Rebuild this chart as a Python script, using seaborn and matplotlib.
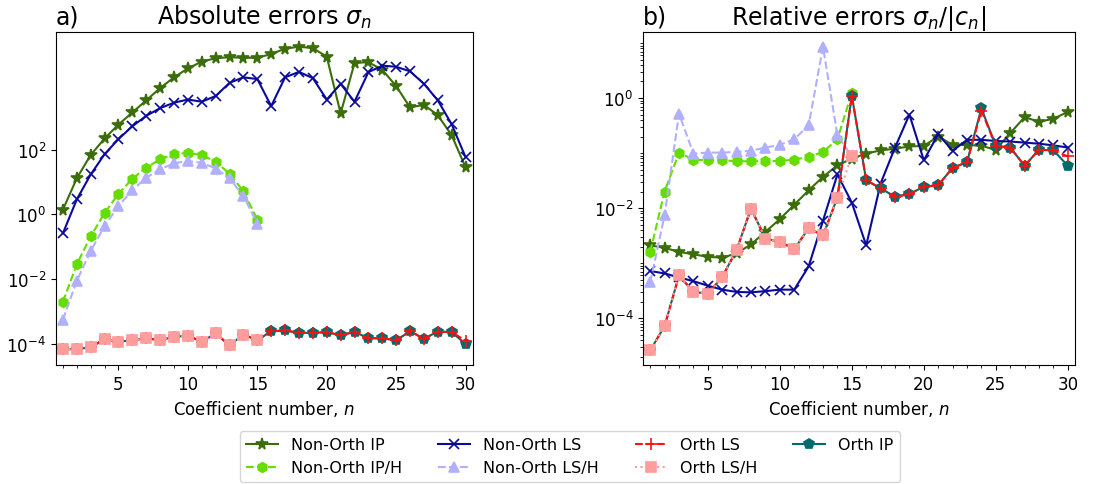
import matplotlib
matplotlib.use("Agg")
import matplotlib.pyplot as plt
from matplotlib.ticker import LogLocator, MultipleLocator, NullFormatter, NullLocator
import seaborn as sns

# coefficient numbers
n_all = list(range(1, 31))
n_half = list(range(1, 16))

# ---- a) absolute errors ----
abs_nonorth_ip = [1.4, 13, 68, 220, 590, 1.4e3, 3.3e3, 7.9e3, 1.7e4, 3.2e4,
                  5.2e4, 6.6e4, 7.1e4, 6.8e4, 6.8e4, 8.9e4, 1.3e5, 1.5e5, 1.35e5, 7.4e4,
                  1.3e3, 4.7e4, 5.0e4, 2.9e4, 9.1e3, 2.0e3, 2.4e3, 1.15e3, 275, 28]
abs_nonorth_ls = [0.26, 2.9, 17, 72, 210, 525, 1.1e3, 1.9e3, 2.8e3, 3.5e3,
                  3.0e3, 4.5e3, 1.15e4, 1.7e4, 1.5e4, 2.2e3, 1.7e4, 2.5e4, 1.6e4, 3.5e3,
                  1.07e4, 3.0e3, 2.45e4, 3.9e4, 3.6e4, 2.6e4, 1.07e4, 3.3e3, 600, 58]
abs_nonorth_ip_h = [2.0e-3, 2.9e-2, 0.21, 1.1, 4.3, 12.6, 27.5, 50, 72, 79,
                    68, 42, 18, 5.2, 0.69]
abs_nonorth_ls_h = [5.6e-4, 8.9e-3, 7.4e-2, 0.44, 1.8, 5.6, 13.5, 24.5, 38, 44,
                    39, 26, 12.9, 3.7, 0.52]
abs_orth_ls_h = [6.9e-5, 6.9e-5, 7.9e-5, 1.4e-4, 1.17e-4, 1.3e-4, 1.5e-4, 1.3e-4, 1.66e-4, 1.8e-4,
                 1.17e-4, 2.1e-4, 9.1e-5, 1.95e-4, 1.3e-4]
abs_orth_ls = [6.9e-5, 6.9e-5, 7.9e-5, 1.4e-4, 1.17e-4, 1.3e-4, 1.5e-4, 1.3e-4, 1.66e-4, 1.8e-4,
               1.17e-4, 2.1e-4, 9.1e-5, 1.95e-4, 1.3e-4, 2.45e-4, 2.6e-4, 2.2e-4, 2.2e-4, 2.3e-4,
               1.85e-4, 2.35e-4, 1.5e-4, 1.5e-4, 1.3e-4, 2.45e-4, 1.45e-4, 2.4e-4, 2.3e-4, 1.26e-4]
abs_orth_ip = [6.9e-5, 6.9e-5, 7.9e-5, 1.4e-4, 1.17e-4, 1.3e-4, 1.5e-4, 1.3e-4, 1.66e-4, 1.8e-4,
               1.17e-4, 2.1e-4, 9.1e-5, 1.95e-4, 1.3e-4, 2.45e-4, 2.6e-4, 2.2e-4, 2.2e-4, 2.3e-4,
               1.85e-4, 2.35e-4, 1.5e-4, 1.5e-4, 1.3e-4, 2.45e-4, 1.45e-4, 2.4e-4, 2.3e-4, 1.0e-4]

# ---- b) relative errors ----
rel_nonorth_ip = [2.1e-3, 1.9e-3, 1.6e-3, 1.45e-3, 1.3e-3, 1.26e-3, 1.5e-3, 2.2e-3, 3.7e-3, 6.3e-3,
                  1.15e-2, 2.1e-2, 3.7e-2, 6.0e-2, 7.9e-2, 9.8e-2, 0.112, 0.12, 0.132, 0.135,
                  0.2, 0.141, 0.141, 0.135, 0.115, 0.23, 0.45, 0.37, 0.42, 0.56]
rel_nonorth_ls = [7.2e-4, 6.5e-4, 5.5e-4, 4.7e-4, 3.9e-4, 3.3e-4, 3.0e-4, 2.95e-4, 3.1e-4, 3.3e-4,
                  3.3e-4, 8.7e-4, 5.9e-3, 4.1e-2, 1.26e-2, 2.1e-3, 2.8e-2, 0.126, 0.5, 7.4e-2,
                  0.22, 0.11, 0.174, 0.174, 0.166, 0.162, 0.155, 0.148, 0.138, 0.126]
rel_nonorth_ip_h = [1.6e-3, 2.0e-2, 0.102, 7.6e-2, 7.4e-2, 7.4e-2, 7.1e-2, 7.1e-2, 7.1e-2, 7.2e-2,
                    7.6e-2, 8.5e-2, 0.105, 0.178, 1.25]
rel_nonorth_ls_h = [4.5e-4, 7.4e-3, 0.52, 9.8e-2, 0.102, 0.102, 0.105, 0.11, 0.126, 0.141,
                    0.178, 0.32, 8.5, 0.21, 8.7e-2]
rel_orth_ls_h = [2.6e-5, 7.2e-5, 6.0e-4, 3.0e-4, 2.8e-4, 5.6e-4, 1.74e-3, 9.8e-3, 2.8e-3, 2.45e-3,
                 1.8e-3, 4.3e-3, 3.2e-3, 1.55e-2, 8.9e-2]
rel_orth_ls = [2.6e-5, 7.2e-5, 6.0e-4, 3.0e-4, 2.8e-4, 5.6e-4, 1.74e-3, 9.8e-3, 2.8e-3, 2.45e-3,
               1.8e-3, 4.3e-3, 3.2e-3, 1.55e-2, 1.1, 3.2e-2, 2.3e-2, 1.6e-2, 1.8e-2, 2.45e-2,
               2.6e-2, 5.4e-2, 6.8e-2, 0.59, 0.135, 0.126, 5.9e-2, 0.115, 0.112, 8.7e-2]
rel_orth_ip = [2.6e-5, 7.2e-5, 6.0e-4, 3.0e-4, 2.8e-4, 5.6e-4, 1.74e-3, 9.8e-3, 2.8e-3, 2.45e-3,
               1.8e-3, 4.3e-3, 3.2e-3, 1.55e-2, 1.1, 3.2e-2, 2.3e-2, 1.6e-2, 1.8e-2, 2.45e-2,
               2.6e-2, 5.4e-2, 6.8e-2, 0.65, 0.135, 0.126, 5.9e-2, 0.115, 0.112, 5.9e-2]

# label, color, marker, markersize, linestyle
styles = {
    "Non-Orth IP": ("#3b6e0a", "*", 8.5, "-"),
    "Non-Orth IP/H": ("#66dd00", "h", 7, "--"),
    "Non-Orth LS": ("#0a0a9a", "x", 7, "-"),
    "Non-Orth LS/H": ("#b0b0ff", "^", 7, "--"),
    "Orth IP": ("#006b6b", "p", 7, "-"),
    "Orth LS": ("#ff1010", "+", 8, "--"),
    "Orth LS/H": ("#ff9c9c", "s", 7, ":"),
}


def draw_series(ax, x, y, name):
    color, marker, ms, ls = styles[name]
    sns.lineplot(x=x, y=y, ax=ax, color=color, marker=marker, markersize=ms,
                 linestyle=ls, linewidth=1.5, markeredgecolor=color,
                 markeredgewidth=1.2, label=name)


fig = plt.figure(figsize=(11.02, 4.85), dpi=100)
ax1 = fig.add_axes([0.0508, 0.2454, 0.378, 0.6866])
ax2 = fig.add_axes([0.5835, 0.2454, 0.392, 0.6866])

panels = [
    (ax1, [abs_nonorth_ip, abs_nonorth_ip_h, abs_nonorth_ls, abs_nonorth_ls_h,
           abs_orth_ip, abs_orth_ls, abs_orth_ls_h]),
    (ax2, [rel_nonorth_ip, rel_nonorth_ip_h, rel_nonorth_ls, rel_nonorth_ls_h,
           rel_orth_ip, rel_orth_ls, rel_orth_ls_h]),
]
order = ["Non-Orth IP", "Non-Orth IP/H", "Non-Orth LS", "Non-Orth LS/H",
         "Orth IP", "Orth LS", "Orth LS/H"]

for ax, series in panels:
    for name, vals in zip(order, series):
        x = n_all if len(vals) == 30 else n_half
        draw_series(ax, x, vals, name)
    ax.set_yscale("log")
    ax.set_xlim(0.5, 30.5)
    ax.set_xticks([5, 10, 15, 20, 25, 30])
    ax.xaxis.set_minor_locator(MultipleLocator(1))
    ax.set_xlabel("Coefficient number, $n$", fontsize=12)
    ax.set_ylabel("")
    ax.tick_params(labelsize=12)
    ax.get_legend().remove()

ax1.set_ylim(10 ** -4.65, 10 ** 5.63)
ax1.set_yticks([1e-4, 1e-2, 1, 1e2])
ax1.yaxis.set_minor_locator(NullLocator())
ax1.set_title("Absolute errors $\\sigma_n$", fontsize=17)
ax1.set_title("a)", loc="left", fontsize=17)

ax2.set_ylim(10 ** -4.85, 10 ** 1.2)
ax2.set_yticks([1e-4, 1e-2, 1])
ax2.yaxis.set_minor_locator(LogLocator(base=10, subs="all", numticks=30))
ax2.yaxis.set_minor_formatter(NullFormatter())
ax2.set_title("Relative errors $\\sigma_n/|c_n|$", fontsize=17)
ax2.set_title("b)", loc="left", fontsize=17)

handles, labels = ax1.get_legend_handles_labels()
lookup = dict(zip(labels, handles))
leg_order = ["Non-Orth IP", "Non-Orth IP/H", "Non-Orth LS", "Non-Orth LS/H",
             "Orth LS", "Orth LS/H", "Orth IP"]
fig.legend([lookup[k] for k in leg_order], leg_order, loc="lower center",
           bbox_to_anchor=(0.517, -0.012), ncol=4, fontsize=11.5,
           columnspacing=2.27)

fig.savefig("out.png", dpi=100)
